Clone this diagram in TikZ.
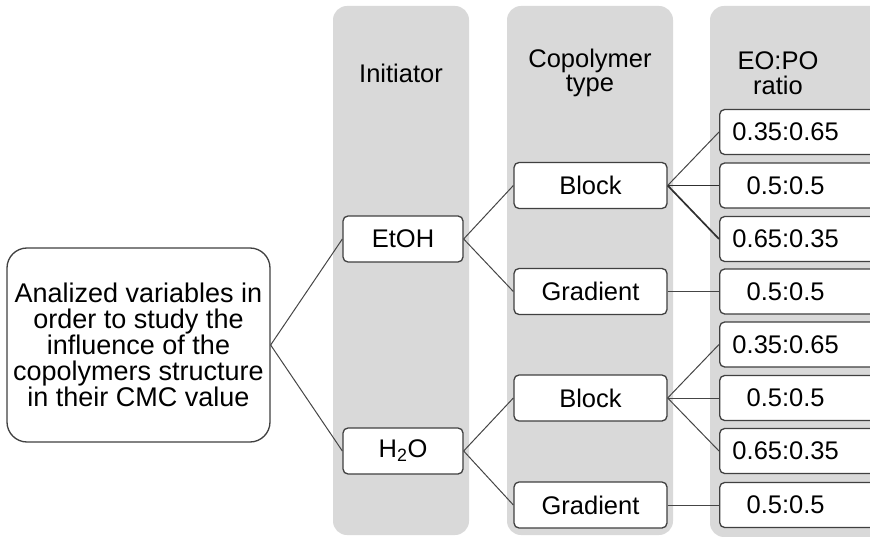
\documentclass[tikz,border=0pt]{standalone}
\usepackage{fontspec}
\setmainfont{Liberation Sans}
\definecolor{panelgray}{HTML}{D9D9D9}
\definecolor{boxline}{HTML}{404040}
\definecolor{conline}{HTML}{454545}
\newcommand\rtxt[1]{\makebox[171pt][l]{\makebox[132pt]{#1}}}
\begin{document}
\begin{tikzpicture}[x=1pt,y=-1pt,
  panel/.style={fill=panelgray, draw=none, rounded corners=14pt},
  head/.style={align=center, inner sep=0pt, font=\fontsize{25.5}{24.5}\selectfont},
  box/.style={draw=boxline, line width=1.3pt, fill=white, rounded corners=5pt,
    minimum height=46pt, inner sep=0pt, font=\fontsize{25.5}{27}\selectfont},
  initbox/.style={box, minimum width=120pt},
  typebox/.style={box, minimum width=153pt},
  ratiobox/.style={box, minimum height=45pt, anchor=west},
  mainbox/.style={draw=boxline, line width=1.3pt, fill=white, rounded corners=20pt,
    minimum width=263pt, minimum height=194pt, inner sep=0pt, align=center,
    font=\fontsize{27}{26}\selectfont},
  con/.style={draw=conline, line width=1pt},
  conthick/.style={draw=conline!70!black, line width=1.7pt}]
\useasboundingbox (0,0) rectangle (870,537);
\clip (0,0) rectangle (870,537);
% panels
\fill[panel] (333,6) rectangle (469,535);
\fill[panel] (507,6) rectangle (673,535);
\fill[panel] (710,6) rectangle (900,537);
% headers
\node[head] (hi) at (401,73) {Initiator};
\node[head] (hc) at (590,73) {Copolymer\\type};
\node[head] (he) at (778,73) {EO:PO\\ratio};
% main box
\node[mainbox] (m) at (138.5,345) {Analized variables in\\order to study the\\influence of the\\copolymers structure\\in their CMC value};
% initiators
\node[initbox] (etoh) at (403,239) {EtOH};
\node[initbox] (hho) at (403,451) {H\textsubscript{2}O};
% copolymer types
\node[typebox] (b1) at (590.5,185.5) {Block};
\node[typebox] (g1) at (590.5,291.5) {Gradient};
\node[typebox] (b2) at (590.5,398) {Block};
\node[typebox] (g2) at (590.5,505) {Gradient};
% ratios
\node[ratiobox] (r1) at (719,132) {\rtxt{0.35:0.65}};
\node[ratiobox] (r2) at (719,185.5) {\rtxt{0.5:0.5}};
\node[ratiobox] (r3) at (719,239) {\rtxt{0.65:0.35}};
\node[ratiobox] (r4) at (719,291.5) {\rtxt{0.5:0.5}};
\node[ratiobox] (r5) at (719,344.5) {\rtxt{0.35:0.65}};
\node[ratiobox] (r6) at (719,398) {\rtxt{0.5:0.5}};
\node[ratiobox] (r7) at (719,451) {\rtxt{0.65:0.35}};
\node[ratiobox] (r8) at (719,505) {\rtxt{0.5:0.5}};
% connectors
\draw[con] (m.east) -- (etoh.west);
\draw[con] (m.east) -- (hho.west);
\draw[con] (etoh.east) -- (b1.west);
\draw[con] (etoh.east) -- (g1.west);
\draw[con] (hho.east) -- (b2.west);
\draw[con] (hho.east) -- (g2.west);
\draw[con] (b1.east) -- (r1.west);
\draw[conthick] (b1.east) -- (r2.west);
\draw[conthick] (b1.east) -- (r3.west);
\draw[con] (g1.east) -- (r4.west);
\draw[con] (b2.east) -- (r5.west);
\draw[con] (b2.east) -- (r6.west);
\draw[con] (b2.east) -- (r7.west);
\draw[con] (g2.east) -- (r8.west);
\end{tikzpicture}
\end{document}
